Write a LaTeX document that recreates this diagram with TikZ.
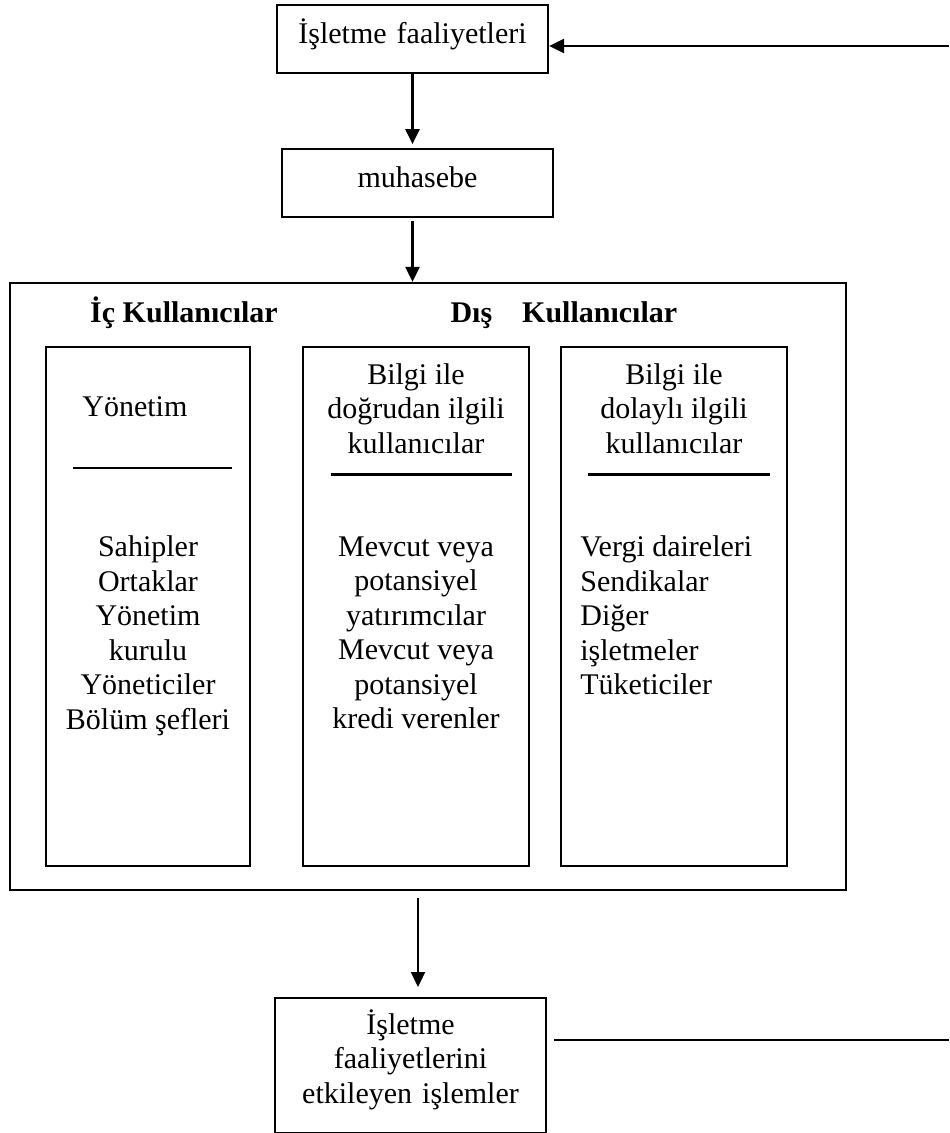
\documentclass[tikz,border=0pt]{standalone}
\usepackage{fontspec}
\setmainfont{Liberation Serif}
\usetikzlibrary{arrows.meta,positioning}
\tikzstyle{box} = [rectangle, draw=black, line width=0.9pt, inner sep=0pt, minimum width=108.4pt, text width=108.4pt, align=center, font=\fontsize{12}{13.8}\selectfont]
\tikzstyle{panel} = [rectangle, draw=black, line width=0.9pt, inner sep=0pt]
\tikzstyle{textonly} = [draw=none, fill=none, inner sep=0pt, font=\fontsize{12}{13.8}\selectfont]
\tikzstyle{heading} = [draw=none, fill=none, inner sep=0pt, font=\fontsize{12}{13.8}\selectfont\bfseries]
\tikzstyle{tedge} = [draw, line width=0.9pt, -{Triangle[length=6pt,width=5.6pt]}]
\tikzstyle{tline} = [draw, line width=0.9pt]
\begin{document}
\begin{tikzpicture}[x=0.4pt, y=-0.4pt]
\useasboundingbox (0,0) rectangle (949,1133);

% boxes =============================

% top flow
\node[box, text height=15.2pt, text depth=12pt] (faal) at (412.5,39) {İşletme faaliyetleri};
\node[box, text height=15.2pt, text depth=12pt, below=29.6pt of faal, xshift=2pt] (muh) {muhasebe};

% users
\node[panel, minimum width=334.4pt, minimum height=242.8pt] (big) at (428,586.5) {};
\node[heading, anchor=base] (ic) at (184,322) {İç Kullanıcılar};
\node[heading, anchor=base west] (dis) at (450,322) {Dış\quad Kullanıcılar};

\node[panel, minimum width=81.6pt, minimum height=207.6pt] (yonbox) at (148,606.5) {};
\node[panel, minimum width=90.4pt, minimum height=207.6pt] (dogbox) at (416,606.5) {};
\node[panel, minimum width=90.4pt, minimum height=207.6pt] (dolbox) at (674,606.5) {};

% texts in the user boxes
\node[textonly, below right=20.2pt and 14.8pt of yonbox.north west] (yon) {Yönetim};
\node[textonly, align=center, below=75.8pt of yonbox.north] (yonalt) {Sahipler\\Ortaklar\\Yönetim\\kurulu\\Yöneticiler\\Bölüm şefleri};

\node[textonly, align=center, below=6.8pt of dogbox.north] (dogust) {Bilgi ile\\doğrudan ilgili\\kullanıcılar};
\node[textonly, align=center, below=76pt of dogbox.north] (dogalt) {Mevcut veya\\potansiyel\\yatırımcılar\\Mevcut veya\\potansiyel\\kredi verenler};

\node[textonly, align=center, below=6.8pt of dolbox.north] (dolust) {Bilgi ile\\dolaylı ilgili\\kullanıcılar};
\node[textonly, align=left, below right=75.8pt and 8pt of dolbox.north west] (dolalt) {Vergi daireleri\\Sendikalar\\Diğer\\işletmeler\\Tüketiciler};

% rules
\path[tline] ([xshift=11.2pt, yshift=-48.8pt]yonbox.north west) -- ++(63.6pt,0);
\path[tline] ([xshift=11.6pt, yshift=-51.4pt]dogbox.north west) -- ++(72.4pt,0);
\path[tline] ([xshift=11.2pt, yshift=-51.4pt]dolbox.north west) -- ++(72.8pt,0);

% bottom
\node[box, text height=14.4pt, text depth=39.6pt, anchor=north] (islem) at (410.5,997) {İşletme\\faaliyetlerini\\etkileyen işlemler};

% edges =============================
\coordinate (rin) at (949,46);
\coordinate (rout) at (949,1040);
\coordinate (down) at ([xshift=3pt]islem.north);

\path[tedge, shorten >=1.6pt] (faal.south) -- (faal.south |- muh.north);
\path[tedge, shorten <=1.2pt] (faal.south |- muh.south) -- (faal.south |- big.north);
\path[tedge, shorten <=2.8pt, shorten >=4pt] (down |- big.south) -- (down);
\path[tedge] (rin) -- (rin -| faal.east);
\path[tline, shorten <=2.8pt] (islem.east |- rout) -- (rout);

\end{tikzpicture}
\end{document}
